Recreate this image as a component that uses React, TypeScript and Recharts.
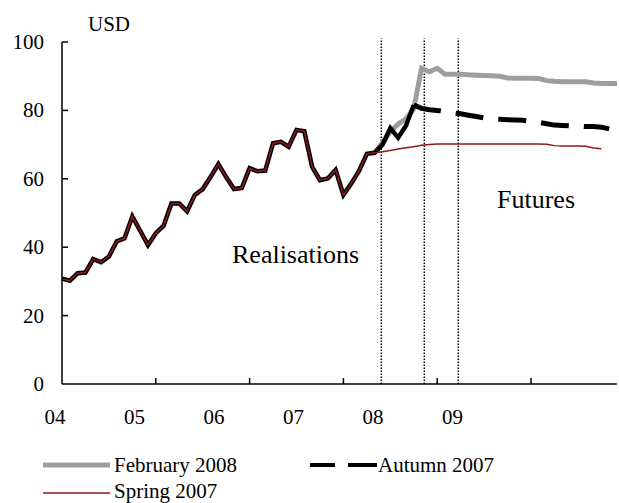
import { LineChart, Line, XAxis, YAxis, ReferenceLine } from 'recharts'

// month index 0 = Jan 2004
const yearLabels = ['04', '05', '06', '07', '08', '09']
const xTicks = [0, 12, 24, 36, 48, 60]
const yTicks = [0, 20, 40, 60, 80, 100]

// realised prices, Jan 2004 .. May 2007 (shared by all vintages)
const realised = [
  30.8, 30.2, 32.4, 32.6, 36.5, 35.6, 37.3, 41.7, 42.6, 49.0, 44.8, 40.6,
  44.1, 46.3, 52.8, 52.8, 50.5, 55.3, 57.0, 60.5, 64.3, 60.5, 57.0, 57.3,
  63.1, 62.2, 62.4, 70.4, 70.8, 69.4, 74.3, 73.9, 63.5, 59.6, 60.1, 62.6,
  55.3, 58.6, 62.3, 67.3, 67.6,
]

// from Jun 2007 onwards
const february2008 = [
  70.5, 73.8, 76.0, 77.5, 80.5, 92.3, 91.3, 92.3, 90.6, 90.6, 90.6, 90.4,
  90.3, 90.2, 90.1, 90.0, 89.5, 89.4, 89.4, 89.4, 89.3, 88.7, 88.5, 88.4,
  88.4, 88.4, 88.4, 88.0, 87.9, 87.9, 87.9,
]
const autumn2007 = [
  70.0, 74.8, 72.0, 75.5, 81.6, 80.6, 80.2, 80.0, 79.7, 79.3, 79.0, 78.6,
  78.2, 77.8, 77.5, 77.4, 77.3, 77.2, 77.1, 76.8, 76.5, 76.1, 75.7, 75.6,
  75.5, 75.4, 75.3, 75.3, 75.1, 74.6,
]
const spring2007 = [
  67.9, 68.3, 68.7, 69.1, 69.4, 69.8, 70.0, 70.2, 70.2, 70.2, 70.2, 70.2,
  70.2, 70.2, 70.2, 70.2, 70.2, 70.2, 70.2, 70.2, 70.2, 70.1, 69.7, 69.6,
  69.6, 69.6, 69.5, 69.0, 68.8,
]

// forecast vintage dates (month index)
const vintages = [40.85, 46.35, 50.7]

const LAST = realised.length - 1 // 40
const AUTUMN_REAL_END = 45

const data = Array.from({ length: 72 }, (_, m) => {
  const k = m - LAST - 1
  return {
    m,
    feb: m === LAST ? realised[LAST] : m > LAST ? february2008[k] : undefined,
    hist: m <= LAST ? realised[m] : m <= AUTUMN_REAL_END ? autumn2007[k] : undefined,
    autumn: m >= AUTUMN_REAL_END ? autumn2007[k] : undefined,
    spring: m <= LAST ? realised[m] : spring2007[k],
  }
})

const SERIF = 'Liberation Serif'
const txt = { fontFamily: SERIF }
const GRAY = '#9e9e9e'
const BLACK = '#000'
const RED = '#8e1a1a'

// inward tick marks, 6px long, expressed in axis units
const X_TICK_LEN = 1.75 // value units (~6px)
const Y_TICK_LEN = 0.77 // months (~6px)

const XTick = ({ x, y, payload }: any) => {
  const i = Math.round(payload.value / 12)
  return (
    <text x={x - 7 - i * 14.3} y={y + 40} textAnchor="middle" fontFamily={SERIF} style={txt} fontSize={21} fill="#000">
      {yearLabels[i]}
    </text>
  )
}

const YTick = ({ x, y, payload }: any) => (
  <text x={x - 18} y={y + 7} textAnchor="end" fontFamily={SERIF} style={txt} fontSize={21} fill="#000">
    {payload.value}
  </text>
)

export default function App() {
  return (
    <div style={{ position: 'relative', width: 619, height: 503, background: '#fff', fontFamily: SERIF }}>
      <style>{'body{margin:0}'}</style>
      <LineChart width={619} height={503} data={data} margin={{ top: 42, right: 2, bottom: 118, left: 61 }}>
        <XAxis
          type="number"
          dataKey="m"
          domain={[0, 71]}
          ticks={xTicks}
          height={1}
          tickSize={0}
          tickMargin={0}
          tick={XTick}
          tickLine={false}
          axisLine={{ stroke: '#000', strokeWidth: 1.5 }}
          interval={0}
        />
        <YAxis
          domain={[0, 100]}
          ticks={yTicks}
          width={1}
          tickSize={0}
          tickMargin={0}
          tick={YTick}
          tickLine={false}
          axisLine={{ stroke: '#000', strokeWidth: 1.5 }}
          interval={0}
        />
        {xTicks.slice(1).map((t) => (
          <ReferenceLine key={'xt' + t} segment={[{ x: t, y: 0 }, { x: t, y: X_TICK_LEN }]} stroke="#000" strokeWidth={1.5} />
        ))}
        {yTicks.slice(1).map((t) => (
          <ReferenceLine key={'yt' + t} segment={[{ x: 0, y: t }, { x: Y_TICK_LEN, y: t }]} stroke="#000" strokeWidth={1.5} />
        ))}
        {vintages.map((v) => (
          <ReferenceLine
            key={v}
            segment={[{ x: v, y: 0 }, { x: v, y: 101 }]}
            ifOverflow="visible"
            stroke="#000"
            strokeWidth={1.5}
            strokeDasharray="1.5 1.5"
          />
        ))}
        <Line dataKey="feb" stroke={GRAY} strokeWidth={5} dot={false} isAnimationActive={false} />
        <Line dataKey="hist" stroke={BLACK} strokeWidth={4.5} dot={false} isAnimationActive={false} />
        <Line dataKey="autumn" stroke={BLACK} strokeWidth={5} strokeDasharray="28 15" dot={false} isAnimationActive={false} />
        <Line dataKey="spring" stroke={RED} strokeWidth={1.5} dot={false} isAnimationActive={false} />
      </LineChart>
      <svg width={619} height={503} style={{ position: 'absolute', left: 0, top: 0, pointerEvents: 'none' }}>
        <g fontFamily={SERIF}>
          <text x={88} y={31} fontSize={21} style={txt}>USD</text>
          <text x={232} y={263} fontSize={26} style={txt}>Realisations</text>
          <text x={497} y={208} fontSize={26} style={txt}>Futures</text>

          <line x1={43} y1={465} x2={110} y2={465} stroke={GRAY} strokeWidth={5} />
          <text x={114} y={472} fontSize={21} style={txt}>February 2008</text>
          <line x1={310} y1={465} x2={335} y2={465} stroke={BLACK} strokeWidth={4} />
          <line x1={348} y1={465} x2={377} y2={465} stroke={BLACK} strokeWidth={4} />
          <text x={378} y={472} fontSize={21} style={txt}>Autumn 2007</text>
          <line x1={43} y1={493} x2={110} y2={493} stroke={RED} strokeWidth={1.5} />
          <text x={114} y={498} fontSize={21} style={txt}>Spring 2007</text>
        </g>
      </svg>
    </div>
  )
}
